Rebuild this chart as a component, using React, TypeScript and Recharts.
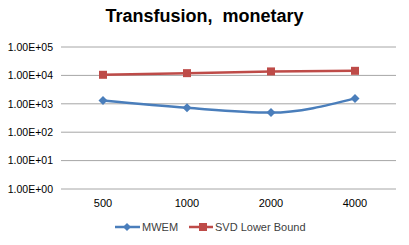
import React from 'react';
import { LineChart, Line, XAxis, YAxis, CartesianGrid, Legend } from 'recharts';

const categories = ['500', '1000', '2000', '4000'];
const mwem = [1300, 720, 490, 1550];
const svdLowerBound = [10500, 12000, 13800, 14500];
const yTicks = [1, 10, 100, 1000, 10000, 100000];

const data = categories.map((c, i) => ({ name: c, mwem: mwem[i], svd: svdLowerBound[i] }));

const BLUE = '#4a7ebb';
const RED = '#be4b48';
const FONT = '"Liberation Sans", Arial, sans-serif';

const fmt = (v: number) => {
  const e = Math.round(Math.log10(v));
  return `1.00E+${e < 10 ? '0' + e : e}`;
};

const Diamond = (props: any) => {
  const { cx, cy, fill } = props;
  if (cx == null || cy == null) return null;
  const r = 4.5;
  return <path d={`M${cx},${cy - r}L${cx + r},${cy}L${cx},${cy + r}L${cx - r},${cy}Z`} fill={fill} />;
};
const Square = (props: any) => {
  const { cx, cy, fill } = props;
  if (cx == null || cy == null) return null;
  const s = 8;
  return <rect x={cx - s / 2} y={cy - s / 2} width={s} height={s} fill={fill} />;
};

const LegendContent = () => (
  <svg width={409} height={20} style={{ display: 'block' }}>
    <line x1={115} x2={140} y1={10} y2={10} stroke={BLUE} strokeWidth={2.5} />
    <path d="M127,6L131,10L127,14L123,10Z" fill={BLUE} />
    <text x={142} y={14} fontSize={11} fontFamily={FONT} fill="#404040">MWEM</text>
    <line x1={189} x2={213} y1={10} y2={10} stroke={RED} strokeWidth={2.5} />
    <rect x={199} y={6} width={8} height={8} fill={RED} />
    <text x={215} y={14} fontSize={11} fontFamily={FONT} fill="#404040">SVD Lower Bound</text>
  </svg>
);

export default function App() {
  return (
    <div style={{ position: 'absolute', left: 0, top: 0, width: 409, height: 245, background: '#fff' }}>
      <div
        style={{
          position: 'absolute',
          left: 0,
          top: 6,
          width: 409,
          textAlign: 'center',
          fontFamily: FONT,
          fontWeight: 'bold',
          fontSize: 18,
          color: '#000',
          whiteSpace: 'pre',
        }}
      >
        {'Transfusion,  monetary'}
      </div>
      <LineChart width={409} height={245} data={data} margin={{ top: 47, right: 13, bottom: 6, left: 0 }}>
        <CartesianGrid vertical={false} stroke="#a6a6a6" strokeWidth={1} />
        <XAxis
          dataKey="name"
          axisLine={false}
          tickLine={false}
          height={30}
          padding={{ left: 42, right: 41 }}
          tick={{ fontSize: 11, fontFamily: FONT, fill: '#000' }}
          dy={2}
        />
        <YAxis
          scale="log"
          domain={[1, 100000]}
          ticks={yTicks}
          allowDataOverflow
          axisLine={false}
          tickLine={false}
          width={61}
          tickFormatter={fmt}
          tick={{ fontSize: 10.5, fontFamily: FONT, fill: '#000' }}
        />
        <Legend verticalAlign="bottom" height={20} content={<LegendContent />} wrapperStyle={{ left: 0, top: 217, width: 409 }} />
        <Line
          type="monotone"
          dataKey="mwem"
          name="MWEM"
          stroke={BLUE}
          strokeWidth={2.5}
          dot={<Diamond fill={BLUE} />}
          isAnimationActive={false}
        />
        <Line
          type="linear"
          dataKey="svd"
          name="SVD Lower Bound"
          stroke={RED}
          strokeWidth={2.5}
          dot={<Square fill={RED} />}
          isAnimationActive={false}
        />
      </LineChart>
    </div>
  );
}
